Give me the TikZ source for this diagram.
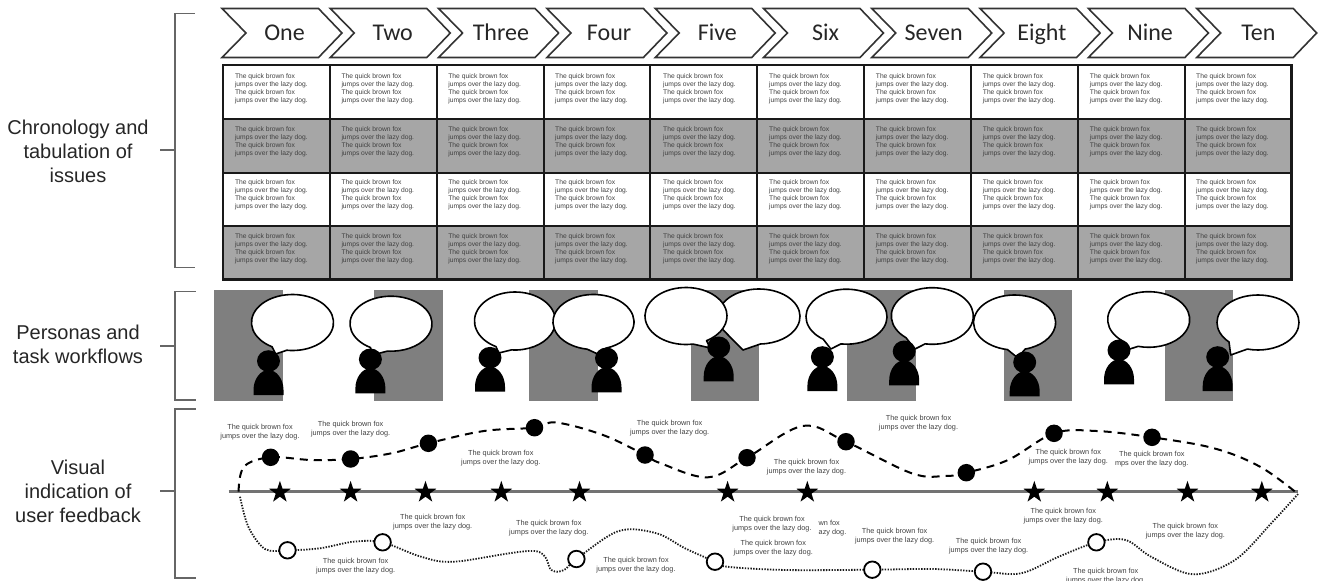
\documentclass[tikz,border=0pt]{standalone}
\usepackage{fontspec}
\setmainfont{Liberation Sans}
\newfontfamily\carl{Carlito}
\usetikzlibrary{shapes.geometric}
\definecolor{cellgray}{HTML}{A6A6A6}
\definecolor{rectgray}{HTML}{7F7F7F}
\definecolor{txtgray}{HTML}{404040}
\tikzset{
  sidelabel/.style={align=center,inner sep=0pt,font=\fontsize{20}{24}\selectfont,text=black!85},
  bracketline/.style={draw=black!60,line width=1.1pt},
  chevronline/.style={draw=black!80,line width=1.6pt,line join=miter},
  chevrontext/.style={inner sep=0pt,anchor=base,font=\carl\fontsize{24}{26}\selectfont,text=black!85},
  cellbox/.style={draw=black!90,line width=2.4pt,inner sep=0pt,anchor=north west},
  celltext/.style={inner sep=0pt,anchor=north west,align=left,font=\fontsize{6.7}{8.1}\selectfont,text=txtgray},
  fblabel/.style={inner sep=0pt,align=center,font=\fontsize{7.3}{9}\selectfont,text=txtgray},
  fblabelL/.style={inner sep=0pt,align=left,font=\fontsize{7.3}{9}\selectfont,text=txtgray},
  blackdot/.style={circle,fill=black,inner sep=0pt,minimum size=17.5pt},
  opendot/.style={circle,draw=black,fill=white,line width=1.8pt,inner sep=0pt,minimum size=16.5pt},
  starmark/.style={star,star points=5,star point ratio=2.6,fill=black,inner sep=0pt,minimum size=23pt},
  bubbleline/.style={draw=black,fill=white,line width=1.6pt,line join=round},
  dashcurve/.style={draw=black,line width=2pt,dash pattern=on 8pt off 6pt},
  dotcurve/.style={draw=black!90,line width=1.8pt,dash pattern=on 1.4pt off 1.4pt},
}
\newcommand{\mybubble}[8]{% cx cy rx ry a1 a2 tipx tipy
  \path[bubbleline] (#1,#2) ++(#6:#3 and #4)
    arc[start angle=#6,end angle={#5+360},x radius=#3,y radius=#4] -- (#7,#8) -- cycle;}
\newcommand{\mypersona}[2]{% cx bottom
  \fill[black] ({#1-15},#2) -- ({#1-15},{#2-5}) .. controls ({#1-15},{#2-16}) and ({#1-8},{#2-25}) .. (#1,{#2-25})
     .. controls ({#1+8},{#2-25}) and ({#1+15},{#2-16}) .. ({#1+15},{#2-5}) -- ({#1+15},#2) -- cycle;
  \fill[black] (#1,{#2-34}) ellipse[x radius=11.5,y radius=10.8];}
\begin{document}
\begin{tikzpicture}[x=1pt,y=1pt,yscale=-1]
\useasboundingbox (0,0) rectangle (1318,581);
% chevrons
\foreach \i/\t in {0/One,1/Two,2/Three,3/Four,4/Five,5/Six,6/Seven,7/Eight,8/Nine,9/Ten}{
  \pgfmathsetmacro{\xl}{222+108.3*\i}
  \pgfmathsetmacro{\tc}{284.5+108.2*\i}
  \draw[chevronline] (\xl,8.5) -- ({\xl+96.5},8.5) -- ({\xl+120},33) -- ({\xl+96.5},57.5) -- (\xl,57.5) -- ({\xl+24},33) -- cycle;
  \node[chevrontext] (chev\i) at (\tc,40.5) {\t};
}
% table
\foreach \r/\ya/\yb/\fc/\ty in {1/64/117.7/white/73.2,2/117.7/171.7/cellgray/126.2,3/171.7/224.7/white/179.2,4/224.7/278.3/cellgray/233.5}{
  \foreach \c/\xa/\xb/\tx in {1/221.8/328.7/234.8,2/328.7/435.6/341.3,3/435.6/542.5/448.2,4/542.5/649/555,5/649/755.7/663,6/755.7/863/769,7/863/970/875.7,8/970/1077/982.7,9/1077/1183.7/1089.7,10/1183.7/1290.3/1196}{
    \node[cellbox,fill=\fc,minimum width={(\xb-\xa)*1pt},minimum height={(\yb-\ya)*1pt}] (cell\r\c) at (\xa,\ya) {};
    \node[celltext] (text\r\c) at (\tx,\ty) {The quick brown fox\\jumps over the lazy dog.\\The quick brown fox\\jumps over the lazy dog.};
  }
}
% side labels and brackets
\node[sidelabel] (lab1) at (78,151.7) {Chronology and\\tabulation of\\issues};
\node[sidelabel] (lab2) at (78,344.7) {Personas and\\task workflows};
\node[sidelabel] (lab3) at (78,491.5) {Visual\\indication of\\user feedback};
\coordinate (b1t) at (160,150);
\coordinate (b2t) at (160,346);
\coordinate (b3t) at (160,491);
\draw[bracketline] (194.5,13.3) -- (175,13.3) -- (175,267.7) -- (194.5,267.7);
\draw[bracketline] (b1t) -- (175,150);
\draw[bracketline] (195.5,291.7) -- (175,291.7) -- (175,400) -- (195.5,400);
\draw[bracketline] (b2t) -- (175,346);
\draw[bracketline] (195.5,409) -- (175,409) -- (175,578) -- (195.5,578);
\draw[bracketline] (b3t) -- (175,491);
% persona rectangles
\foreach \xa/\xb in {214.2/283.3,374.2/442.8,529/597.6,690.6/759,847/915.6,1003.7/1071.7,1164.8/1233.2}{
  \fill[rectgray] (\xa,290) rectangle (\xb,400.7);
}
% bubbles
\mybubble{292.5}{322.5}{41}{28}{98}{120}{275.7}{354}
\mybubble{391}{323.7}{41}{27.5}{95}{120}{372.5}{355}
\mybubble{515}{321}{40.5}{29}{95}{118}{498.7}{353}
\mybubble{593.5}{322}{40.5}{27.5}{72}{99}{599.8}{355}
\mybubble{759}{316.5}{41}{27.5}{88}{145}{743}{350}
\mybubble{686}{316}{41}{28.5}{60}{80}{710.4}{348}
\mybubble{846.5}{316.7}{40.5}{27.5}{98}{125}{830.8}{349}
\mybubble{932.3}{316}{41}{28.3}{100}{130}{915}{349}
\mybubble{1014.6}{322.5}{41}{27.5}{75}{100}{1017.5}{357.7}
\mybubble{1148.7}{319.5}{41}{27.8}{105}{130}{1126.7}{350}
\mybubble{1258}{322.5}{41}{27.5}{105}{135}{1230.7}{355}
% personas
\mypersona{268.5}{395}
\mypersona{370.4}{393.3}
\mypersona{490}{391.7}
\mypersona{606.5}{392.3}
\mypersona{718.7}{381.3}
\mypersona{822.4}{391}
\mypersona{904.2}{385.3}
\mypersona{1024.7}{396.3}
\mypersona{1119}{384.3}
\mypersona{1217.7}{391}
% axis
\coordinate (axL) at (228.5,491.7);
\coordinate (axR) at (1298,491.7);
\draw[draw=black!55,line width=2.6pt] (axL) -- (axR);
% dashed curve
\coordinate (d1) at (270.6,457.3);
\coordinate (d2) at (350.6,459);
\coordinate (d3) at (428.4,443.3);
\coordinate (d4) at (534.5,427.7);
\coordinate (d5) at (645,455);
\coordinate (d6) at (747,457.7);
\coordinate (d7) at (846,441.7);
\coordinate (d8) at (966.3,472.7);
\coordinate (d9) at (1054,433.3);
\coordinate (d10) at (1152,437.3);
\coordinate (tipR) at (1298,494);
\coordinate (tipL) at (238.6,491.7);
\draw[dashcurve] plot[smooth,tension=0.6] coordinates {(tipL) (244,466.7) (d1) (311.5,460) (d2) (391.4,453.3) (d3) (484,431) (d4) (556,422.5) (603,435) (d5) (660,463) (708,477.3) (d6) (802.7,426) (d7) (911.8,473.3) (945,476) (d8) (1008,460) (d9) (1096.4,431) (d10) (1214,448.3) (1260,466.7) (tipR)};
% dotted curve
\coordinate (o1) at (287.5,550.3);
\coordinate (o2) at (382.6,542.3);
\coordinate (o3) at (576.4,559);
\coordinate (o4) at (715,561.7);
\coordinate (o5) at (872.3,569.7);
\coordinate (o6) at (983,571.7);
\coordinate (o7) at (1096.4,542.3);
\coordinate (tipLb) at (240,496.7);
\draw[dotcurve] plot[smooth,tension=0.55] coordinates {(tipLb) (248.3,526.7) (265,549) (o1) (320,548.3) (353.5,541.7) (o2) (421,556.7) (454.5,561.7) (534.5,551) (551.4,570) (564,570) (o3) (618.7,531) (656.6,533.3) (685,548.3) (o4) (727,566.7) (786,570) (o5) (932.8,569) (o6) (1021,573.3) (1058.7,556.7) (o7) (1125.8,540) (1151,556.7) (1193,574.3) (1235,560) (1272.7,521.7) (tipR)};
% dots
\foreach \n in {1,...,10}{\node[blackdot] (dd\n) at (d\n) {};}
\foreach \n in {1,...,7}{\node[opendot] (oo\n) at (o\n) {};}
% stars
\foreach \x [count=\n] in {279.9,350.6,425.5,501.3,579.5,727.6,807.3,1034.3,1107.3,1187.5,1261.8}{
  \node[starmark] (st\n) at (\x,492.3) {};
}
% feedback labels
\foreach \n/\x/\y in {1/260/432.5,2/350.6/428.8,3/500.8/458.5,4/669.6/428.5,5/806.5/467.2,6/918.5/422.8,7/1068.3/457.2,9/432.7/522.5,10/548.8/528.5,11/355.6/566.5,12/636/565.5,13/772/523.8,15/773.3/548.5,16/894.6/535.8,17/988.6/545.8,18/1063.3/515.8,19/1185.4/530.8,20/1105.7/575.7}{
  \node[fblabel] (fb\n) at (\x,\y) {The quick brown fox\\jumps over the lazy dog.};
}
\node[fblabel] (fb8) at (1151.8,458.8) {The quick brown fox\\mps over the lazy dog.};
\node[fblabelL] (fb14) at (832.5,527.8) {wn fox\\azy dog.};
\end{tikzpicture}
\end{document}
